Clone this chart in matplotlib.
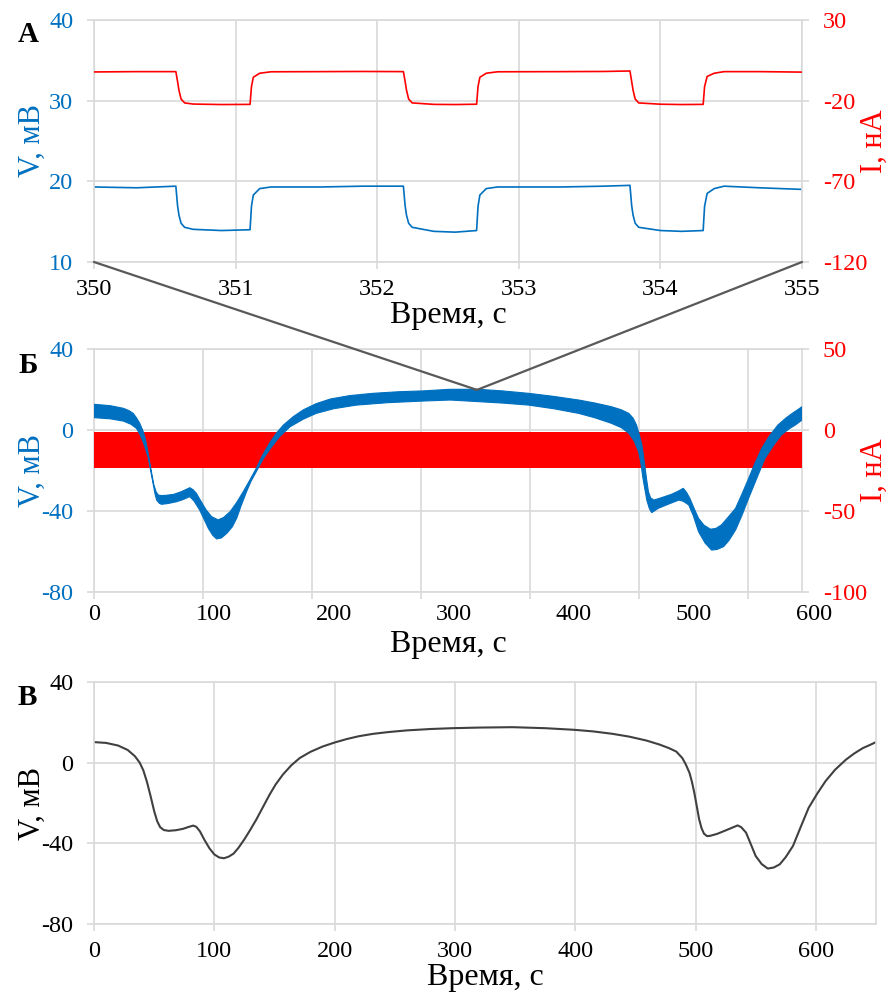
import matplotlib.pyplot as plt
from matplotlib.patches import ConnectionPatch

plt.rcParams['font.family'] = ['Liberation Serif', 'DejaVu Serif']
plt.rcParams['axes.unicode_minus'] = False

BLUE = '#0070C0'
RED = '#FF0000'
GRID = '#D9D9D9'

# panel A (zoom 350-355 s): time, V (mV), I (nA)
a_t = [350.00, 350.30, 350.578, 350.59, 350.60, 350.615, 350.64, 350.70, 350.90, 351.102,
       351.112, 351.125, 351.17, 351.25, 351.60, 351.90, 352.185,
       352.197, 352.207, 352.222, 352.247, 352.40, 352.55, 352.702,
       352.712, 352.725, 352.77, 352.85, 353.30, 353.60, 353.785,
       353.797, 353.807, 353.822, 353.847, 354.00, 354.15, 354.302,
       354.312, 354.33, 354.38, 354.45, 354.70, 355.00]
a_v = [19.3, 19.2, 19.4, 17.0, 15.8, 14.8, 14.3, 14.05, 13.9, 14.0,
       16.9, 18.3, 19.1, 19.3, 19.3, 19.4, 19.4,
       17.0, 15.8, 14.8, 14.3, 13.8, 13.7, 13.9,
       16.9, 18.3, 19.1, 19.3, 19.3, 19.4, 19.5,
       17.0, 15.8, 14.8, 14.3, 13.9, 13.8, 13.9,
       16.9, 18.5, 19.1, 19.4, 19.2, 19.0]
a_i = [-2.2, -2.0, -2.0, -8.0, -13.5, -19.0, -21.4, -22.1, -22.4, -22.3,
       -11.3, -5.5, -3.0, -2.1, -2.0, -1.9, -2.0,
       -8.0, -13.5, -19.0, -21.4, -22.3, -22.4, -22.2,
       -11.3, -5.5, -3.0, -2.1, -2.0, -1.9, -1.6,
       -8.0, -13.5, -19.0, -21.4, -22.2, -22.4, -22.3,
       -11.3, -5.0, -3.0, -2.0, -2.0, -2.3]

# panel B (0-650 s): envelope of the fast V oscillation and of the I square wave
b_top_t = [0, 15, 27, 32, 36, 39, 42, 45, 47, 49, 51, 53, 55, 57, 59, 62, 67, 73, 80, 88,
           91, 94, 98, 103, 108, 114, 119, 125, 131, 137, 143, 149, 155, 162, 168, 174,
           183, 192, 204, 217, 235, 256, 280, 302, 327, 353, 375, 399, 422, 445, 460,
           475, 484, 491, 495, 498, 500.5, 503, 504.5, 506, 507.5, 509, 511, 514, 520,
           530, 536, 541, 544, 547, 551, 555, 560, 566, 571, 576, 582, 589, 595, 601,
           607, 613, 620, 628, 635, 641, 646, 650]
b_top_v = [12.7, 12.0, 10.7, 9.6, 8.2, 6.0, 3.3, -0.5, -4.1, -9.5, -15.6, -21.5, -27.2,
           -30.5, -32.1, -32.4, -32.2, -31.8, -30.5, -28.5, -29.5, -31.3, -35.0, -39.5,
           -42.8, -44.4, -43.2, -40.3, -35.8, -30.5, -24.8, -18.9, -12.2, -5.8, -1.2, 2.5,
           6.6, 9.9, 13.0, 15.3, 17.0, 18.1, 18.9, 19.3, 20.1, 20.1, 19.3, 18.1, 16.6,
           14.8, 13.3, 11.5, 10.0, 8.2, 5.8, 2.5, -2.0, -7.4, -13.0, -18.9, -25.0, -30.5,
           -33.5, -34.6, -33.6, -31.8, -30.3, -28.8, -30.8, -33.7, -38.8, -43.6, -47.0,
           -49.0, -48.6, -46.9, -43.2, -38.7, -31.5, -23.9, -16.2, -9.1, -3.0, 2.5, 5.8,
           8.2, 10.0, 11.5]
b_bot_t = [0, 15, 27, 34, 39, 42, 45, 47.5, 50, 52, 54.5, 56, 57.5, 60, 62, 68, 76, 82, 88,
           92, 97, 101, 105, 109, 112.6, 117, 122, 127, 131, 135, 140, 144, 149, 155, 162,
           170, 180, 192, 204, 220, 241, 270, 302, 327, 353, 375, 399, 422, 445, 460, 475,
           484, 491, 496, 500, 502, 504, 506, 507.5, 510, 512, 515, 518, 527, 537, 541,
           546, 550, 555, 561, 567, 572, 578, 583, 589, 595, 601, 608, 616, 624, 631, 638,
           644, 650]
b_bot_v = [6.1, 5.5, 4.4, 2.8, 0.8, -2.0, -5.8, -9.5, -14.0, -20.0, -27.2, -31.5, -34.6,
           -36.2, -36.7, -36.3, -35.4, -34.3, -32.9, -35.2, -39.5, -44.0, -48.6, -52.0,
           -53.8, -53.3, -51.0, -47.8, -43.6, -37.5, -30.5, -25.5, -20.6, -14.5, -9.1,
           -3.5, 1.6, 5.3, 8.2, 10.5, 12.3, 13.5, 14.3, 14.8, 14.0, 13.3, 12.3, 10.5, 8.2,
           6.0, 3.3, 1.2, -1.6, -5.5, -10.7, -16.0, -23.9, -30.0, -34.6, -39.0, -40.8,
           -39.8, -38.7, -36.7, -34.6, -35.2, -37.0, -42.0, -50.2, -55.8, -59.3, -59.0,
           -57.6, -54.5, -49.4, -42.0, -33.7, -24.5, -14.0, -7.5, -2.5, 0.5, 2.5, 4.9]
b_i_t = [0, 650]
b_i_top = [-1.5, -1.5]
b_i_bot = [-23.5, -23.5]
b_tick_labels = [0, 100, 200, 300, 400, 500, 600]
b_label_span = 590  # tick labels in panel B are laid out on a 0-590 scale

# panel C (0-650 s): averaged V
c_t = [0, 10, 20, 28, 34, 38, 41, 44, 47, 50, 52.5, 55, 58, 62, 68, 74, 79, 82.5, 85, 88,
       92, 96, 100, 104, 108, 112, 116, 120, 125, 130, 135, 140, 146, 151, 157, 164, 171,
       180, 190, 200, 210, 220, 232, 245, 260, 280, 298, 320, 348, 375, 399, 415, 431,
       445, 459, 470, 478, 484, 489, 492, 495, 497, 499, 501, 503, 505, 507, 509.5, 512,
       518, 525, 531, 535, 538, 542, 546, 550, 555, 560, 565, 570, 575, 581, 587, 594,
       601, 608, 616, 625, 632, 639, 645, 650]
c_v = [10.2, 9.8, 8.5, 6.3, 3.2, 0.0, -3.8, -9.5, -16.5, -24.0, -29.0, -32.0, -33.4,
       -33.8, -33.5, -32.8, -31.8, -31.2, -31.8, -34.0, -38.5, -42.5, -45.5, -47.0, -47.4,
       -46.6, -45.1, -42.3, -38.0, -33.2, -28.1, -22.5, -15.8, -10.8, -5.9, -1.3, 2.3,
       5.4, 8.0, 10.0, 11.7, 13.1, 14.3, 15.2, 16.0, 16.7, 17.1, 17.4, 17.6, 17.1, 16.3,
       15.5, 14.3, 12.9, 11.0, 9.0, 7.2, 5.5, 2.3, -1.0, -5.1, -9.5, -15.0, -21.5, -28.1,
       -32.5, -35.2, -36.4, -36.3, -35.3, -33.6, -32.1, -31.1, -32.0, -34.7, -40.5,
       -46.3, -50.3, -52.5, -52.0, -50.4, -46.8, -41.3, -32.5, -22.4, -15.5, -9.2, -3.5,
       1.5, 4.6, 7.2, 8.8, 10.2]

TICK = 17.5
YLAB = 22
XLAB = 23


def style(ax, xlim, xticks, ylim, yticks, ycolor, xlabels=True):
    ax.set_xlim(xlim)
    ax.set_ylim(ylim)
    ax.set_xticks(xticks)
    ax.set_yticks(yticks)
    ax.grid(True, color=GRID, lw=1.2)
    ax.set_axisbelow(True)
    for s in ax.spines.values():
        s.set_color(GRID)
        s.set_linewidth(1.2)
    ax.tick_params(axis='both', length=5, width=1.2, color=GRID, labelsize=TICK)
    ax.tick_params(axis='y', labelcolor=ycolor, pad=10)
    ax.tick_params(axis='x', pad=7)
    if not xlabels:
        ax.set_xticklabels([])


def twin(ax, ylim, yticks):
    ax2 = ax.twinx()
    ax2.set_ylim(ylim)
    ax2.set_yticks(yticks)
    for s in ax2.spines.values():
        s.set_visible(False)
    ax2.tick_params(axis='y', length=5, width=1.2, color=GRID, labelsize=TICK,
                    labelcolor=RED, pad=10)
    ax2.set_ylabel('I, нА', color=RED, fontsize=YLAB)
    ax2.yaxis.set_label_coords(1.082, 0.5)
    return ax2


fig = plt.figure(figsize=(8.95, 9.94), dpi=100)
axA = fig.add_axes([0.10503, 0.73642, 0.79106, 0.24346])
axB = fig.add_axes([0.10503, 0.40443, 0.79106, 0.24447])
axC = fig.add_axes([0.10503, 0.07042, 0.87374, 0.24346])

# A
style(axA, (350, 355), [350, 351, 352, 353, 354, 355], (10, 40), [10, 20, 30, 40], BLUE)
axA.plot(a_t, a_v, color=BLUE, lw=1.2)
axA.set_ylabel('V, мВ', color=BLUE, fontsize=YLAB)
axA.yaxis.set_label_coords(-0.067, 0.5)
axA.set_xlabel('Время, с', fontsize=XLAB, labelpad=1)
axA2 = twin(axA, (-120, 30), [-120, -70, -20, 30])
axA2.plot(a_t, a_i, color=RED, lw=1.2)

# B
style(axB, (0, 650), [0, 100, 200, 300, 400, 500, 600], (-80, 40), [-80, -40, 0, 40], BLUE,
      xlabels=False)
axB.set_ylabel('V, мВ', color=BLUE, fontsize=YLAB)
axB.yaxis.set_label_coords(-0.067, 0.5)
for v in b_tick_labels:
    axB.annotate(str(v), xy=(v / b_label_span, 0), xycoords='axes fraction',
                 xytext=(0, -8.5), textcoords='offset points', ha='center', va='top',
                 fontsize=TICK)
axB.text(0.5, -0.155, 'Время, с', transform=axB.transAxes, ha='center', va='top',
         fontsize=XLAB)
axB2 = twin(axB, (-100, 50), [-100, -50, 0, 50])
axB2.fill_between(b_i_t, b_i_bot, b_i_top, color=RED, lw=0, zorder=1)
axB3 = axB.twinx()
axB3.set_ylim(-80, 40)
axB3.axis('off')
axB3.fill(b_top_t + b_bot_t[::-1], b_top_v + b_bot_v[::-1],
          color=BLUE, lw=0.8, ec=BLUE)

# C
style(axC, (0, 650), [0, 100, 200, 300, 400, 500, 600], (-80, 40), [-80, -40, 0, 40], 'black')
axC.plot(c_t, c_v, color='#404040', lw=1.5)
axC.set_ylabel('V, мВ', fontsize=YLAB)
axC.yaxis.set_label_coords(-0.0607, 0.5)
axC.set_xlabel('Время, с', fontsize=XLAB, labelpad=1)

# zoom lines from A to B
for xa in (0, 1):
    con = ConnectionPatch(xyA=(xa, 0), coordsA=axA.transAxes,
                          xyB=(351.6, 19.8), coordsB=axB3.transData,
                          color='#595959', lw=1.6, zorder=10)
    fig.add_artist(con)

fig.text(18 / 895, 1 - 42 / 994, 'А', fontsize=21, fontweight='bold', ha='left', va='baseline')
fig.text(18 / 895, 1 - 373 / 994, 'Б', fontsize=21, fontweight='bold', ha='left', va='baseline')
fig.text(18 / 895, 1 - 705 / 994, 'В', fontsize=21, fontweight='bold', ha='left', va='baseline')

fig.savefig('out.png', dpi=100)
